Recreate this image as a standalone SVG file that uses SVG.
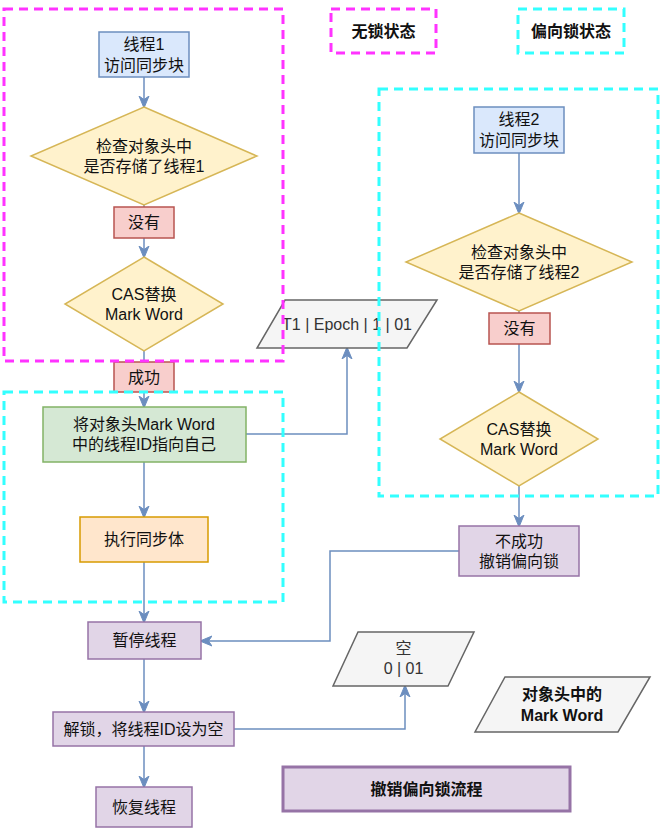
<svg xmlns="http://www.w3.org/2000/svg" width="663" height="832" viewBox="0 0 663 832">
<style>
text{font-family:"Liberation Sans","Noto Sans CJK SC",sans-serif;font-size:16px;fill:#111;text-anchor:middle;dominant-baseline:central}
.g{fill:#333}
.b{font-weight:bold}
.blue{fill:#dae8fc;stroke:#6c8ebf;stroke-width:1.5}
.yel{fill:#fff2cc;stroke:#d6b656;stroke-width:1.5}
.red{fill:#f8cecc;stroke:#b85450;stroke-width:1.5}
.grn{fill:#d5e8d4;stroke:#82b366;stroke-width:1.5}
.org{fill:#ffe6cc;stroke:#d79b00;stroke-width:1.5}
.pur{fill:#e1d5e7;stroke:#9673a6;stroke-width:1.5}
.gry{fill:#f5f5f5;stroke:#666666;stroke-width:1.5}
.c{fill:none;stroke:#6c8ebf;stroke-width:1.5}
.ca{fill:none;stroke:#6c8ebf;stroke-width:1.5;marker-end:url(#arr)}
.mg{fill:none;stroke:#ff33ff;stroke-width:3;stroke-dasharray:9 6}
.cy{fill:none;stroke:#33ffff;stroke-width:3;stroke-dasharray:9 6}
</style>
<defs>
<marker id="arr" viewBox="0 0 12 12" refX="11" refY="6" markerWidth="12" markerHeight="12" markerUnits="userSpaceOnUse" orient="auto">
<path d="M0,1 L12,6 L0,11 L3.5,6 z" fill="#6c8ebf" stroke="#6c8ebf" stroke-width="1"/>
</marker>
</defs>
<rect width="663" height="832" fill="#ffffff"/>

<g id="connectors">
<path class="ca" d="M144,77 V107"/>
<path class="c" d="M144,205 V207"/>
<path class="ca" d="M144,238 V257"/>
<path class="c" d="M144,351 V362"/>
<path class="ca" d="M144,392 V407"/>
<path class="ca" d="M144,462 V517"/>
<path class="ca" d="M144,562 V622"/>
<path class="ca" d="M144,659 V712"/>
<path class="ca" d="M144,746 V787"/>
<path class="ca" d="M246,434 H347 V348"/>
<path class="ca" d="M519,153 V213"/>
<path class="c" d="M519,311 V313"/>
<path class="ca" d="M519,344 V392"/>
<path class="ca" d="M519,486 V526"/>
<path class="ca" d="M459,551 H330 V641 H201"/>
<path class="ca" d="M234,729 H405 V686"/>
</g>

<g id="thread1">
<rect class="blue" x="99" y="32" width="90" height="45"/>
<text x="144" y="44">线程1</text>
<text x="144" y="65">访问同步块</text>
</g>
<g id="check1">
<path class="yel" d="M144,107 L257,156 L144,205 L31,156 z"/>
<text x="144" y="146">检查对象头中</text>
<text x="144" y="166">是否存储了线程1</text>
</g>
<g id="no1">
<rect class="red" x="114" y="207" width="60" height="31"/>
<text x="144" y="222.5">没有</text>
</g>
<g id="cas1">
<path class="yel" d="M144,257 L223,304 L144,351 L65,304 z"/>
<text x="144" y="294">CAS替换</text>
<text x="144" y="314">Mark Word</text>
</g>
<g id="success">
<rect class="red" x="114" y="362" width="60" height="30"/>
<text x="144" y="377">成功</text>
</g>
<g id="setid">
<rect class="grn" x="43" y="407" width="203" height="55"/>
<text x="144" y="424">将对象头Mark Word</text>
<text x="144" y="444">中的线程ID指向自己</text>
</g>
<g id="exec">
<rect class="org" x="80" y="517" width="128" height="45"/>
<text x="144" y="539.5">执行同步体</text>
</g>
<g id="pause">
<rect class="pur" x="88" y="622" width="113" height="37"/>
<text x="144.5" y="640.5">暂停线程</text>
</g>
<g id="unlock">
<rect class="pur" x="53" y="712" width="181" height="34"/>
<text x="143.5" y="729">解锁，将线程ID设为空</text>
</g>
<g id="resume">
<rect class="pur" x="96" y="787" width="96" height="40"/>
<text x="144" y="807">恢复线程</text>
</g>
<g id="mw1">
<path class="gry" d="M285,300 H437 L407,348 H257 z"/>
<text class="g" x="347" y="324">T1 | Epoch | 1 | 01</text>
</g>
<g id="thread2">
<rect class="blue" x="474" y="107" width="90" height="46"/>
<text x="519" y="119">线程2</text>
<text x="519" y="140">访问同步块</text>
</g>
<g id="check2">
<path class="yel" d="M519,213 L632,262 L519,311 L406,262 z"/>
<text x="519" y="252">检查对象头中</text>
<text x="519" y="272">是否存储了线程2</text>
</g>
<g id="no2">
<rect class="red" x="489" y="313" width="61" height="31"/>
<text x="519.5" y="328.5">没有</text>
</g>
<g id="cas2">
<path class="yel" d="M519,392 L598,439 L519,486 L440,439 z"/>
<text x="519" y="429">CAS替换</text>
<text x="519" y="449">Mark Word</text>
</g>
<g id="fail">
<rect class="pur" x="459" y="526" width="120" height="50"/>
<text x="519" y="541">不成功</text>
<text x="519" y="561">撤销偏向锁</text>
</g>
<g id="mw2">
<path class="gry" d="M358,632 H474 L448,686 H333 z"/>
<text class="g" x="403.5" y="648">空</text>
<text class="g" x="403.5" y="668">0 | 01</text>
</g>
<g id="legend-mw">
<path class="gry" d="M505,677 H650 L618,732 H475 z"/>
<text class="b" x="562" y="694">对象头中的</text>
<text class="b" x="562" y="715">Mark Word</text>
</g>
<g id="title">
<rect x="283" y="767" width="287" height="44" fill="#e1d5e7" stroke="#9673a6" stroke-width="3"/>
<text class="b" x="426.5" y="789">撤销偏向锁流程</text>
</g>
<g id="legend-nolock">
<rect class="mg" x="331" y="9" width="105" height="44"/>
<text class="b" x="383.5" y="31">无锁状态</text>
</g>
<g id="legend-biased">
<rect class="cy" x="518" y="9" width="106" height="44"/>
<text class="b" x="571" y="31">偏向锁状态</text>
</g>
<g id="zones">
<rect class="mg" x="4" y="9" width="279" height="352"/>
<rect class="cy" x="4" y="392" width="279" height="210"/>
<rect class="cy" x="379" y="89" width="279" height="407"/>
</g>
</svg>
